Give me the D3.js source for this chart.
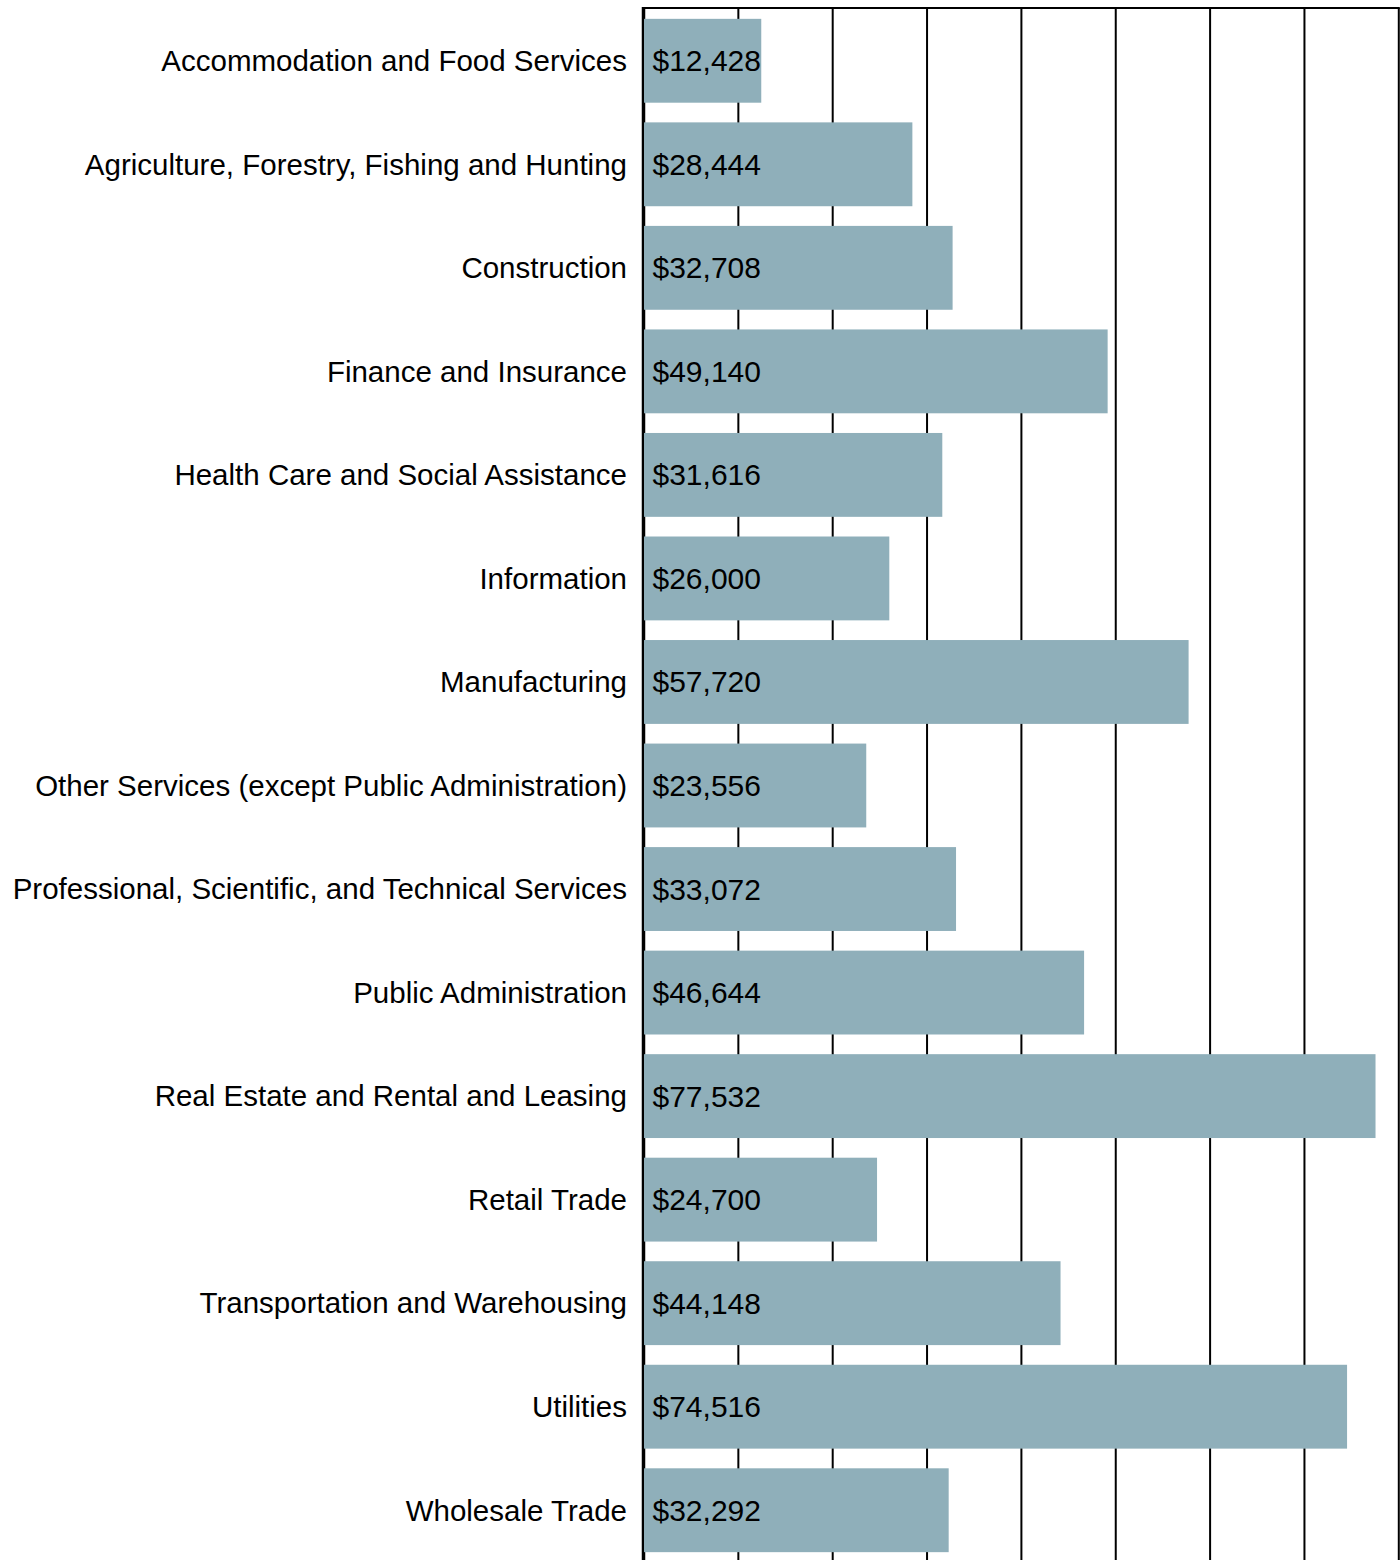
<!DOCTYPE html>
<html><head><meta charset="utf-8">
<script src="https://cdn.jsdelivr.net/npm/d3@7"></script>
<style>body{margin:0;background:#fff}svg{display:block}text{font-family:"Liberation Sans",Arial,sans-serif}</style>
</head><body>
<script>
const categories = ["Accommodation and Food Services","Agriculture, Forestry, Fishing and Hunting","Construction","Finance and Insurance","Health Care and Social Assistance","Information","Manufacturing","Other Services (except Public Administration)","Professional, Scientific, and Technical Services","Public Administration","Real Estate and Rental and Leasing","Retail Trade","Transportation and Warehousing","Utilities","Wholesale Trade"];
const values = [12428,28444,32708,49140,31616,26000,57720,23556,33072,46644,77532,24700,44148,74516,32292];
const gridTicks = [10000,20000,30000,40000,50000,60000,70000,80000];

const W = 1400, H = 1560;
const svg = d3.select("body").append("svg").attr("width", W).attr("height", H);
const x = d3.scaleLinear().domain([0, 80000]).range([644, 1398.8]);
const y = d3.scaleBand().domain(categories).range([9, 1562]).paddingInner(0.19).paddingOuter(0.095);

// gridlines
svg.append("g").selectAll("line").data(gridTicks).join("line")
  .attr("x1", d => x(d)).attr("x2", d => x(d)).attr("y1", 8).attr("y2", H)
  .attr("stroke", "#000").attr("stroke-width", 2);
// top line
svg.append("line").attr("x1", 642).attr("x2", x(80000) + 1).attr("y1", 8).attr("y2", 8)
  .attr("stroke", "#000").attr("stroke-width", 2);
// axis line
svg.append("line").attr("x1", 643.5).attr("x2", 643.5).attr("y1", 7).attr("y2", H)
  .attr("stroke", "#000").attr("stroke-width", 3.5);

const data = categories.map((c, i) => ({c, v: values[i]}));
svg.append("g").selectAll("rect").data(data).join("rect")
  .attr("x", x(0)).attr("y", d => y(d.c)).attr("width", d => x(d.v) - x(0))
  .attr("height", y.bandwidth()).attr("fill", "#8FAFBA");

svg.append("g").selectAll("text").data(data).join("text")
  .attr("x", x(0) + 8.5).attr("y", d => y(d.c) + y.bandwidth() / 2).attr("dy", "0.35em")
  .attr("font-size", 30).attr("fill", "#000")
  .text(d => "$" + d3.format(",")(d.v));

svg.append("g").selectAll("text").data(data).join("text")
  .attr("x", 627).attr("y", d => y(d.c) + y.bandwidth() / 2).attr("dy", "0.35em")
  .attr("text-anchor", "end").attr("font-size", 29.5).attr("fill", "#000")
  .text(d => d.c);
</script>
</body></html>
